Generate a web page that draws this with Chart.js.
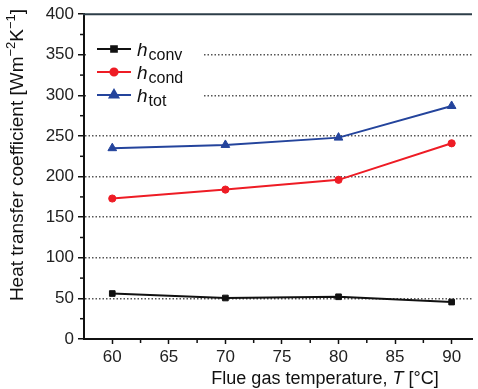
<!DOCTYPE html>
<html lang="en">
<head>
<meta charset="UTF-8">
<title>Heat transfer coefficient vs flue gas temperature</title>
<style>
  html, body { margin: 0; padding: 0; background: #fff; }
  #wrap { width: 478px; height: 389px; }
</style>
</head>
<body>
<div id="wrap"><canvas id="chart" width="478" height="389"></canvas></div>
<script src="https://cdn.jsdelivr.net/npm/chart.js"></script>
<script>
// data
const temperatures = [60, 70, 80, 90];
const hConv = [56, 50.5, 52, 45.5];
const hCond = [173, 184, 196, 241];
const hTot = [235, 239, 248, 287];

const xTicks = [60, 65, 70, 75, 80, 85, 90];
const yTicks = [0, 50, 100, 150, 200, 250, 300, 350, 400];
const xMinor = [62.5, 67.5, 72.5, 77.5, 82.5, 87.5];
const yMinor = [25, 75, 125, 175, 225, 275, 325, 375];

const legendSubs = ['conv', 'cond', 'tot'];
const FONT = '"Liberation Sans", Arial, sans-serif';

const pts = arr => temperatures.map((t, i) => ({ x: t, y: arr[i] }));

const series = [
  { label: 'h_conv', data: pts(hConv), color: '#111111', style: 'rect', r: 4 },
  { label: 'h_cond', data: pts(hCond), color: '#ee1c25', style: 'circle', r: 3.6 },
  { label: 'h_tot', data: pts(hTot), color: '#24449c', style: 'triangle', r: 5 }
];

const decor = {
  id: 'decor',
  afterDraw(chart) {
    const { ctx, chartArea: a, scales: { x, y } } = chart;
    ctx.save();

    // top frame line
    ctx.strokeStyle = '#2d3e48';
    ctx.lineWidth = 2;
    ctx.beginPath();
    ctx.moveTo(a.left - 1, a.top);
    ctx.lineTo(a.right, a.top);
    ctx.stroke();

    // minor ticks
    ctx.strokeStyle = '#111';
    ctx.lineWidth = 1.5;
    yMinor.forEach(v => {
      const py = y.getPixelForValue(v);
      ctx.beginPath(); ctx.moveTo(a.left - 4, py); ctx.lineTo(a.left, py); ctx.stroke();
    });
    xMinor.forEach(v => {
      const px = x.getPixelForValue(v);
      ctx.beginPath(); ctx.moveTo(px, a.bottom); ctx.lineTo(px, a.bottom + 4); ctx.stroke();
    });

    // legend box (hides grid behind it)
    ctx.fillStyle = '#fff';
    ctx.fillRect(a.left + 2, 36, 118, 72);
    series.forEach((s, i) => {
      const cy = 49 + i * 23;
      ctx.strokeStyle = s.color;
      ctx.fillStyle = s.color;
      ctx.lineWidth = 2;
      ctx.beginPath(); ctx.moveTo(97, cy); ctx.lineTo(131, cy); ctx.stroke();
      Chart.helpers.drawPoint(ctx, { pointStyle: s.style, radius: s.r, rotation: 0, borderWidth: 1 }, 114, cy);
      ctx.fillStyle = '#111';
      ctx.textBaseline = 'alphabetic';
      ctx.textAlign = 'left';
      ctx.font = 'italic 19px ' + FONT;
      ctx.fillText('h', 137, cy + 7);
      const w = ctx.measureText('h').width;
      ctx.font = '16px ' + FONT;
      ctx.fillText(legendSubs[i], 137 + w + 1, cy + 11);
    });

    // x axis title
    ctx.fillStyle = '#111';
    ctx.textBaseline = 'alphabetic';
    const partsX = [
      ['18px ' + FONT, 'Flue gas temperature, '],
      ['italic 18px ' + FONT, 'T'],
      ['18px ' + FONT, ' [°C]']
    ];
    let total = 0;
    partsX.forEach(p => { ctx.font = p[0]; total += ctx.measureText(p[1]).width; });
    let cx = 325 - total / 2;
    ctx.textAlign = 'left';
    partsX.forEach(p => { ctx.font = p[0]; ctx.fillText(p[1], cx, 384); cx += ctx.measureText(p[1]).width; });

    // y axis title with superscripts
    ctx.translate(23, 155);
    ctx.rotate(-Math.PI / 2);
    const partsY = [
      ['19px ' + FONT, 'Heat transfer coefficient [Wm', 0],
      ['13px ' + FONT, '\u22122', -8],
      ['19px ' + FONT, 'K', 0],
      ['13px ' + FONT, '\u22121', -8],
      ['19px ' + FONT, ']', 0]
    ];
    total = 0;
    partsY.forEach(p => { ctx.font = p[0]; total += ctx.measureText(p[1]).width; });
    cx = -total / 2;
    partsY.forEach(p => { ctx.font = p[0]; ctx.fillText(p[1], cx, p[2]); cx += ctx.measureText(p[1]).width; });

    ctx.restore();
  }
};

new Chart(document.getElementById('chart'), {
  type: 'line',
  data: {
    datasets: series.map(s => ({
      label: s.label,
      data: s.data,
      borderColor: s.color,
      backgroundColor: s.color,
      borderWidth: 2,
      pointStyle: s.style,
      pointRadius: s.r,
      pointBorderWidth: 1,
      tension: 0
    }))
  },
  options: {
    responsive: false,
    animation: false,
    devicePixelRatio: 1,
    layout: { padding: { top: 12, right: 0, left: 0, bottom: 0 } },
    plugins: { legend: { display: false }, tooltip: { enabled: false } },
    scales: {
      x: {
        type: 'linear',
        min: 57.5,
        max: 91.8,
        afterBuildTicks: s => { s.ticks = xTicks.map(v => ({ value: v })); },
        afterFit: s => { s.height = 50; },
        grid: { drawOnChartArea: false, tickLength: 5, tickColor: '#111', tickWidth: 1.5 },
        border: { color: '#111', width: 2 },
        ticks: { color: '#222', padding: 3, font: { family: FONT, size: 17 } }
      },
      y: {
        min: 0,
        max: 400,
        afterBuildTicks: s => { s.ticks = yTicks.map(v => ({ value: v })); },
        afterFit: s => { s.width = 84; },
        grid: {
          color: c => (c.tick && c.tick.value > 0 && c.tick.value < 400) ? '#555' : 'rgba(0,0,0,0)',
          lineWidth: 1.5,
          tickLength: 6,
          tickColor: '#111',
          tickWidth: 1.5
        },
        border: { color: '#111', width: 2, dash: [1.5, 2] },
        ticks: { color: '#222', padding: 4, font: { family: FONT, size: 17 } }
      }
    }
  },
  plugins: [decor]
});
</script>
</body>
</html>
